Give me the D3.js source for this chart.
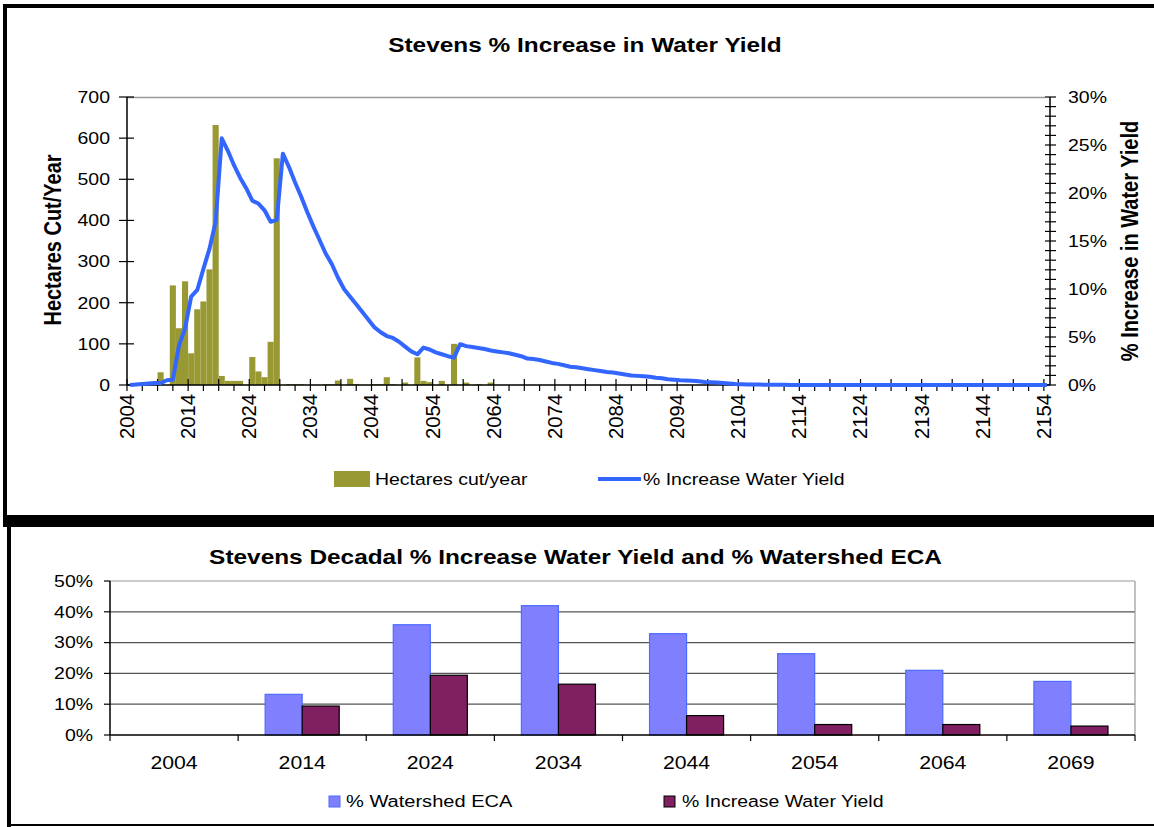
<!DOCTYPE html>
<html>
<head>
<meta charset="utf-8">
<script src="https://cdn.jsdelivr.net/npm/d3@7"></script>
<style>
  html, body { margin: 0; padding: 0; background: #fff; }
  svg { display: block; }
  text { font-family: "Liberation Sans", Arial, sans-serif; fill: #000; }
</style>
</head>
<body>
<svg id="chart" width="1154" height="827"></svg>
<script>
// ---------------- DATA ----------------
const startYear = 2004;
const endYear = 2154;
// Hectares cut per year, 2004 .. 2154
const hectaresCut = [
  0, 0, 0, 0, 0, 31, 0, 242, 138, 252,
  77, 184, 203, 281, 632, 22, 10, 10, 10, 0,
  68, 33, 19, 105, 551, 0, 2, 2, 2, 0,
  0, 0, 2, 2, 11, 0, 15, 2, 0, 0,
  2, 2, 19, 2, 0, 6, 0, 67, 10, 7,
  0, 10, 0, 100, 0, 6, 0, 2, 0, 6,
  0, 0, 0, 0, 0, 0, 0, 0, 0, 0,
  0, 0, 0, 0, 0, 0, 0, 0, 0, 0,
  0, 0, 0, 0, 0, 0, 0, 0, 0, 0,
  0, 0, 0, 0, 0, 0, 0, 0, 0, 0,
  0, 0, 0, 0, 0, 0, 0, 0, 0, 0,
  0, 0, 0, 0, 0, 0, 0, 0, 0, 0,
  0, 0, 0, 0, 0, 0, 0, 0, 0, 0,
  0, 0, 0, 0, 0, 0, 0, 0, 0, 0,
  0, 0, 0, 0, 0, 0, 0, 0, 0, 0,
  0
];
// % increase in water yield, 2004 .. 2154
const waterYieldPct = [
  0, 0.05, 0.1, 0.15, 0.2, 0.2, 0.5, 0.55, 4.1, 5.9,
  9.2, 9.9, 12.1, 14.2, 17.0, 25.7, 24.4, 22.9, 21.6, 20.5,
  19.2, 18.9, 18.2, 17.0, 17.2, 24.1, 22.7, 21.1, 19.6, 18.0,
  16.5, 15.1, 13.7, 12.6, 11.2, 10.0, 9.2, 8.4, 7.6, 6.8,
  6.0, 5.5, 5.1, 4.9, 4.5, 4.0, 3.5, 3.2, 3.9, 3.7,
  3.4, 3.2, 3.0, 2.85, 4.25, 4.05, 3.95, 3.85, 3.75, 3.6,
  3.5, 3.4, 3.3, 3.15, 3.0, 2.75, 2.7, 2.6, 2.45, 2.3,
  2.2, 2.05, 1.9, 1.85, 1.75, 1.65, 1.55, 1.45, 1.35, 1.3,
  1.2, 1.1, 1.0, 0.95, 0.9, 0.85, 0.75, 0.7, 0.6, 0.55,
  0.5, 0.47, 0.45, 0.4, 0.32, 0.28, 0.25, 0.2, 0.15, 0.1,
  0.08, 0.06, 0.05, 0.04, 0.03, 0.02, 0.02, 0.02, 0.01, 0.01,
  0.01, 0, 0, 0, 0, 0, 0, 0, 0, 0,
  0, 0, 0, 0, 0, 0, 0, 0, 0, 0,
  0, 0, 0, 0, 0, 0, 0, 0, 0, 0,
  0, 0, 0, 0, 0, 0, 0, 0, 0, 0,
  0
];
const leftTicks = [0, 100, 200, 300, 400, 500, 600, 700];
const rightTicks = [0, 5, 10, 15, 20, 25, 30];
const yearLabels = [2004, 2014, 2024, 2034, 2044, 2054, 2064, 2074, 2084, 2094, 2104, 2114, 2124, 2134, 2144, 2154];

const decades = ["2004", "2014", "2024", "2034", "2044", "2054", "2064", "2069"];
const watershedECA = [0, 13.2, 35.8, 42.0, 32.9, 26.4, 21.0, 17.4];
const decadalWaterYield = [0, 9.4, 19.4, 16.5, 6.3, 3.4, 3.4, 2.9];
const bottomTicks = [0, 10, 20, 30, 40, 50];

// ---------------- HELPERS ----------------
const SX = 1.18; // horizontal stretch of the original picture's text
const svg = d3.select("#chart");

function stext(g, s, x, y, o = {}) {
  const sx = o.sx || SX;
  let tr = `translate(${x},${y}) scale(${sx},1)`;
  if (o.rot) tr += ` rotate(${o.rot})`;
  const t = g.append("text")
    .attr("transform", tr)
    .attr("text-anchor", o.anchor || "middle")
    .attr("dy", "0.35em")
    .style("font-size", (o.size || 16) + "px")
    .style("font-weight", o.bold ? "bold" : "normal")
    .text(s);
  if (o.len) t.attr("textLength", o.len).attr("lengthAdjust", "spacingAndGlyphs");
  return t;
}

// ---------------- FRAMES ----------------
svg.append("rect").attr("x", 3).attr("y", 4).attr("width", 1151).attr("height", 4).attr("fill", "#000");
svg.append("rect").attr("x", 3).attr("y", 4).attr("width", 4).attr("height", 512).attr("fill", "#000");
svg.append("rect").attr("x", 3).attr("y", 515).attr("width", 1151).attr("height", 12).attr("fill", "#000");
svg.append("rect").attr("x", 7).attr("y", 515).attr("width", 4).attr("height", 312).attr("fill", "#000");
svg.append("rect").attr("x", 7).attr("y", 824).attr("width", 1147).attr("height", 2).attr("fill", "#000");

// ---------------- TOP CHART ----------------
const topG = svg.append("g");
const x = d3.scaleLinear().domain([startYear, endYear + 1]).range([127, 1050]);
const yL = d3.scaleLinear().domain([0, 700]).range([385, 97]);
const yR = d3.scaleLinear().domain([0, 30]).range([385, 97]);

stext(topG, "Stevens % Increase in Water Yield", 585, 45, { size: 20, bold: true, sx: 1.22 });

// plot top border
topG.append("line").attr("x1", 127).attr("x2", 1045).attr("y1", 97.5).attr("y2", 97.5)
  .attr("stroke", "#999").attr("stroke-width", 1.5);

// bars
topG.append("g").selectAll("rect")
  .data(hectaresCut.map((v, i) => ({ year: startYear + i, v })).filter(d => d.v > 0))
  .join("rect")
  .attr("x", d => x(d.year))
  .attr("width", d => x(d.year + 1) - x(d.year))
  .attr("y", d => yL(d.v))
  .attr("height", d => yL(0) - yL(d.v))
  .attr("fill", "#999933");

// x axis with tick marks every 2.5 years
const xAxisG = topG.append("g").attr("transform", "translate(0,385)");
xAxisG.append("line").attr("x1", 127).attr("x2", 1050).attr("stroke", "#000").attr("stroke-width", 1.5);
const tickYears = d3.range(0, 61).map(k => startYear + k * 2.5);
xAxisG.selectAll("line.tk").data(tickYears).join("line").attr("class", "tk")
  .attr("x1", d => x(d)).attr("x2", d => x(d))
  .attr("y1", (d, i) => (i % 2 === 0 ? -6 : 0)).attr("y2", 6)
  .attr("stroke", "#000").attr("stroke-width", 1.2);
yearLabels.forEach(yr => {
  stext(xAxisG, String(yr), x(yr), 9, { size: 18, rot: -90, anchor: "end", len: 45, sx: 1.1 });
});

// left axis
const yLAxis = topG.append("g").attr("transform", "translate(127,0)");
yLAxis.append("line").attr("y1", 97).attr("y2", 385).attr("stroke", "#000").attr("stroke-width", 1.5);
leftTicks.forEach(v => {
  yLAxis.append("line").attr("x1", -8).attr("x2", 7).attr("y1", yL(v)).attr("y2", yL(v))
    .attr("stroke", "#000").attr("stroke-width", 1.2);
  stext(yLAxis, String(v), -17, yL(v), { size: 16.5, anchor: "end" });
});

// right axis
const yRAxis = topG.append("g").attr("transform", "translate(1050,0)");
yRAxis.append("line").attr("y1", 97).attr("y2", 385).attr("stroke", "#000").attr("stroke-width", 1.5);
d3.range(0, 31).forEach(v => {
  yRAxis.append("line").attr("x1", -5).attr("x2", 6).attr("y1", yR(v)).attr("y2", yR(v))
    .attr("stroke", "#000").attr("stroke-width", 1.2);
});
rightTicks.forEach(v => {
  stext(yRAxis, v + "%", 18, yR(v), { size: 16.5, anchor: "start" });
});

// line
const line = d3.line().x((d, i) => x(startYear + i + 0.5)).y(d => yR(d));
topG.append("path").datum(waterYieldPct).attr("d", line)
  .attr("fill", "none").attr("stroke", "#3366FF").attr("stroke-width", 4)
  .attr("stroke-linejoin", "round");

// axis titles
stext(topG, "Hectares Cut/Year", 53, 240, { size: 20, bold: true, rot: -90 });
stext(topG, "% Increase in Water Yield", 1130, 241, { size: 20, bold: true, rot: -90 });

// legend
topG.append("rect").attr("x", 334).attr("y", 471).attr("width", 36).attr("height", 16).attr("fill", "#999933");
stext(topG, "Hectares cut/year", 375, 479, { size: 16.5, anchor: "start" });
topG.append("line").attr("x1", 598).attr("x2", 641).attr("y1", 479).attr("y2", 479)
  .attr("stroke", "#3366FF").attr("stroke-width", 4);
stext(topG, "% Increase Water Yield", 643, 479, { size: 16.5, anchor: "start" });

// ---------------- BOTTOM CHART ----------------
const bot = svg.append("g");
const xb = d3.scaleBand().domain(decades).range([110, 1135]).padding(0);
const xs = d3.scaleBand().domain(["eca", "wy"]).range([0, xb.bandwidth()]).paddingInner(0).paddingOuter(0.73);
const yb = d3.scaleLinear().domain([0, 50]).range([735, 581]);

stext(bot, "Stevens Decadal % Increase Water Yield and % Watershed ECA", 575.5, 557, { size: 20, bold: true, sx: 1.22 });

// gridlines
bottomTicks.forEach(v => {
  if (v === 0) return;
  bot.append("line").attr("x1", 110).attr("x2", 1135).attr("y1", yb(v)).attr("y2", yb(v))
    .attr("stroke", v === 50 ? "#999" : "#555").attr("stroke-width", 1.2);
});
bot.append("line").attr("x1", 1135).attr("x2", 1135).attr("y1", 581).attr("y2", 735)
  .attr("stroke", "#999").attr("stroke-width", 1.2);

// bars
const rows = decades.map((d, i) => ({ d, eca: watershedECA[i], wy: decadalWaterYield[i] }));
bot.append("g").selectAll("rect.eca").data(rows.filter(r => r.eca > 0)).join("rect").attr("class", "eca")
  .attr("x", r => xb(r.d) + xs("eca")).attr("width", xs.bandwidth())
  .attr("y", r => yb(r.eca)).attr("height", r => yb(0) - yb(r.eca))
  .attr("fill", "#8080FF").attr("stroke", "#4D6BFF").attr("stroke-width", 1.2);
bot.append("g").selectAll("rect.wy").data(rows.filter(r => r.wy > 0)).join("rect").attr("class", "wy")
  .attr("x", r => xb(r.d) + xs("wy")).attr("width", xs.bandwidth())
  .attr("y", r => yb(r.wy)).attr("height", r => yb(0) - yb(r.wy))
  .attr("fill", "#802060").attr("stroke", "#000").attr("stroke-width", 1.2);

// axes
bot.append("line").attr("x1", 110).attr("x2", 1135).attr("y1", 735).attr("y2", 735).attr("stroke", "#000").attr("stroke-width", 1.5);
bot.append("line").attr("x1", 110).attr("x2", 110).attr("y1", 581).attr("y2", 735).attr("stroke", "#000").attr("stroke-width", 1.5);
bottomTicks.forEach(v => {
  bot.append("line").attr("x1", 104).attr("x2", 110).attr("y1", yb(v)).attr("y2", yb(v)).attr("stroke", "#000").attr("stroke-width", 1.2);
  stext(bot, v + "%", 93, yb(v), { size: 16.5, anchor: "end" });
});
decades.forEach(d => {
  bot.append("line").attr("x1", xb(d)).attr("x2", xb(d)).attr("y1", 735).attr("y2", 741).attr("stroke", "#000").attr("stroke-width", 1.2);
  stext(bot, d, xb(d) + xb.bandwidth() / 2, 763, { size: 18 });
});
bot.append("line").attr("x1", 1135).attr("x2", 1135).attr("y1", 735).attr("y2", 741).attr("stroke", "#000").attr("stroke-width", 1.2);

// legend
bot.append("rect").attr("x", 329).attr("y", 796).attr("width", 11).attr("height", 11)
  .attr("fill", "#8080FF").attr("stroke", "#4D6BFF").attr("stroke-width", 1);
stext(bot, "% Watershed ECA", 346, 801, { size: 17, anchor: "start" });
bot.append("rect").attr("x", 664).attr("y", 796).attr("width", 11).attr("height", 11)
  .attr("fill", "#802060").attr("stroke", "#000").attr("stroke-width", 1);
stext(bot, "% Increase Water Yield", 682, 801, { size: 16.5, anchor: "start" });
</script>
</body>
</html>
